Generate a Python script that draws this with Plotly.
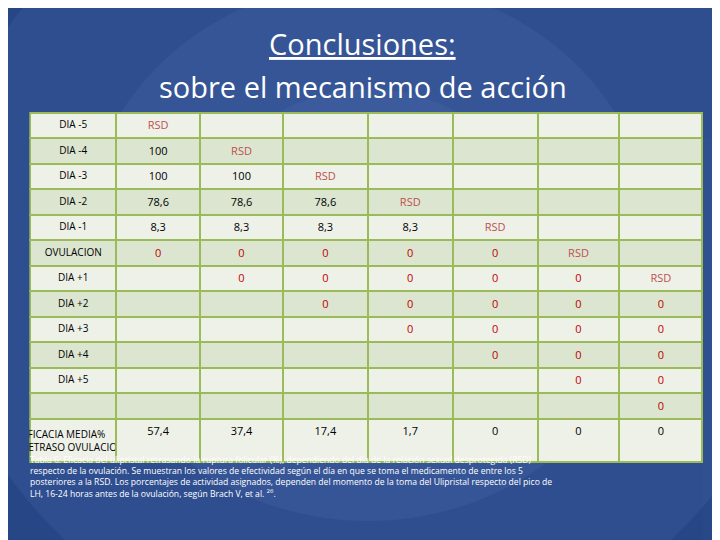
import plotly.graph_objects as go

row_labels = ["DIA -5", "DIA -4", "DIA -3", "DIA -2", "DIA -1", "OVULACION", "DIA +1", "DIA +2",
              "DIA +3", "DIA +4", "DIA +5", "", "EFICACIA MEDIA%<br>RETRASO OVULACION"]
rows = [
    ["RSD", "", "", "", "", "", ""],
    ["100", "RSD", "", "", "", "", ""],
    ["100", "100", "RSD", "", "", "", ""],
    ["78,6", "78,6", "78,6", "RSD", "", "", ""],
    ["8,3", "8,3", "8,3", "8,3", "RSD", "", ""],
    ["0", "0", "0", "0", "0", "RSD", ""],
    ["", "0", "0", "0", "0", "0", "RSD"],
    ["", "", "0", "0", "0", "0", "0"],
    ["", "", "", "0", "0", "0", "0"],
    ["", "", "", "", "0", "0", "0"],
    ["", "", "", "", "", "0", "0"],
    ["", "", "", "", "", "", "0"],
    ["57,4", "37,4", "17,4", "1,7", "0", "0", "0"],
]
caption = ("Tabla 6: Eficacia del ulipristal retrasando la ruptura folicular (%), dependiendo del día de la relación sexual desprotegida (RSD)<br>"
           "respecto de la ovulación. Se muestran los valores de efectividad según el día en que se toma el medicamento de entre los 5<br>"
           "posteriores a la RSD. Los porcentajes de actividad asignados, dependen del momento de la toma del Ulipristal respecto del pico de<br>"
           "LH, 16-24 horas antes de la ovulación, según Brach V, et al. <sup>26</sup>.")

ncol = 8
body_rows = rows[1:]
body_labels = row_labels[1:]
fills_light, fills_dark = "#eef1e8", "#dbe5cf"

def color_of(v, is_last):
    if v == "RSD":
        return "#c0504d"
    if v == "0" and not is_last:
        return "#c00000"
    return "black"

cols_vals, cols_colors, cols_fill = [], [], []
for c in range(ncol):
    vals, colors, fills = [], [], []
    for i, r in enumerate(body_rows):
        last = i == len(body_rows) - 1
        v = body_labels[i] if c == 0 else r[c - 1]
        vals.append(v)
        colors.append("black" if c == 0 else color_of(v, last))
        fills.append(fills_dark if i % 2 == 0 else fills_light)
    cols_vals.append(vals); cols_colors.append(colors); cols_fill.append(fills)

header_vals = [row_labels[0]] + rows[0]
header_colors = ["black"] + [color_of(v, False) for v in rows[0]]

fig = go.Figure(go.Table(
    domain=dict(x=[0.031, 0.965], y=[0.0, 0.806]),
    columnwidth=[86, 84, 83, 85, 85, 85, 82, 83],
    header=dict(values=header_vals, fill_color=fills_light, line=dict(color="#9bbb59", width=2),
                font=dict(color=header_colors, size=[10] + [11] * 7, family="Open Sans"), height=25.5, align="center"),
    cells=dict(values=cols_vals, fill_color=cols_fill, line=dict(color="#9bbb59", width=2),
               font=dict(color=cols_colors, size=[10] + [11] * 7, family="Open Sans"), height=25.5, align="center"),
))

for r in [1.0, 0.75, 0.5, 0.3]:
    fig.add_shape(type="circle", xref="paper", yref="paper", x0=0.5 - r*0.8, x1=0.5 + r*0.8,
                  y0=0.55 - r, y1=0.55 + r, fillcolor="#5b7fc4", opacity=0.15, line_width=0, layer="below")

fig.add_annotation(x=0.493, y=0.935, xref="paper", yref="paper", text="<u>Conclusiones:</u>", showarrow=False,
                   font=dict(size=29, color="white", family="Open Sans"), yanchor="middle")
fig.add_annotation(x=0.493, y=0.855, xref="paper", yref="paper", text="sobre el mecanismo de acción", showarrow=False,
                   font=dict(size=29, color="white", family="Open Sans"), yanchor="middle")
fig.add_annotation(x=0.028, y=0.178, xref="paper", yref="paper", text=caption, showarrow=False, align="left",
                   xanchor="left", yanchor="top", font=dict(size=8.6, color="white", family="Open Sans"))

fig.update_layout(width=720, height=540, margin=dict(l=0, r=0, t=0, b=0),
                  paper_bgcolor="#1e3c7c", plot_bgcolor="#1e3c7c")
fig.write_html("out.html")
